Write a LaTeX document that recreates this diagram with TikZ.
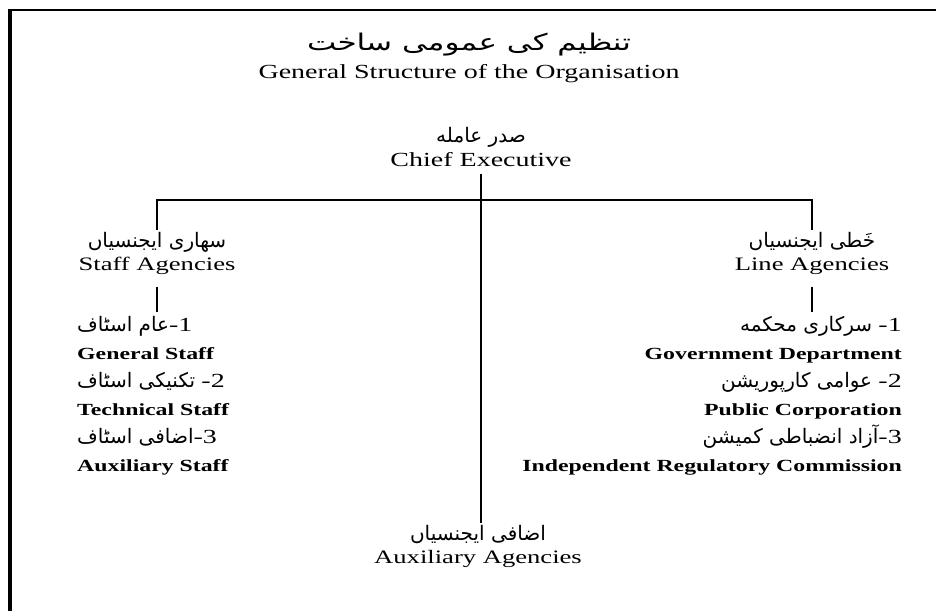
\documentclass[tikz,border=0pt]{standalone}
\usepackage{fontspec}
\setmainfont{Liberation Serif}[FakeStretch=1.4]
\newfontfamily\urdufont[Script=Arabic]{DejaVu Sans}
\newfontfamily\urduwide[Script=Arabic,FakeStretch=1.35]{DejaVu Sans}
\TeXXeTstate=1
\newcommand{\ur}[1]{{\urdufont\mdseries\fontsize{20}{28}\selectfont\beginR #1\endR}}
\newcommand{\nr}[1]{{\rmfamily\mdseries #1}}

\begin{document}
\begin{tikzpicture}[x=1pt,y=-1pt,
  lbl/.style={align=center,font=\fontsize{19}{23}\selectfont,inner sep=2pt},
  item/.style={font=\bfseries\fontsize{17}{28}\selectfont,inner sep=0pt},
  link/.style={draw,line width=2.6pt}]
\useasboundingbox (0,0) rectangle (936,610);
% frame
\draw[line width=4pt] (10,9) -- (10,612);
\draw[line width=1.8pt] (8,10) -- (938,10);

\node[lbl,font=\fontsize{20}{28}\selectfont] (title) at (469,58) {{\urduwide\fontsize{23}{28}\selectfont\beginR تنظیم کی عمومی ساخت\endR}\\General Structure of the Organisation};
\node[lbl,font=\fontsize{20}{24}\selectfont] (ce) at (481,147) {\ur{صدر عامله}\\Chief Executive};
\node[lbl] (staff) at (157,253) {\ur{سهاری ایجنسیاں}\\Staff Agencies};
\node[lbl] (line) at (812,253) {\ur{خَطی ایجنسیاں}\\Line Agencies};
\node[lbl] (aux) at (478,546) {\ur{اضافی ایجنسیاں}\\Auxiliary Agencies};

\node[item,align=left,anchor=north west] (slist) at (77,316) {\ur{\nr{-1}عام اسٹاف}\\General Staff\\\ur{\nr{-2} تکنیکی اسٹاف}\\Technical Staff\\\ur{\nr{-3}اضافی اسٹاف}\\Auxiliary Staff};
\node[item,align=right,anchor=north east] (llist) at (902,316) {\ur{\nr{-1} سرکاری محکمه}\\Government Department\\\ur{\nr{-2} عوامی کارپوریشن}\\Public Corporation\\\ur{\nr{-3}آزاد انضباطی کمیشن}\\Independent Regulatory Commission};

\coordinate (bar) at (481,200);
\path[link,shorten <=5pt] (ce.south) -- (ce.south |- aux.north);
\path[link] (staff.north) |- (bar) -| (line.north);
\path[link,shorten <=11pt,shorten >=4pt] (staff.south) -- (staff.south |- slist.north);
\path[link,shorten <=11pt,shorten >=4pt] (line.south) -- (line.south |- llist.north);
\end{tikzpicture}
\end{document}
